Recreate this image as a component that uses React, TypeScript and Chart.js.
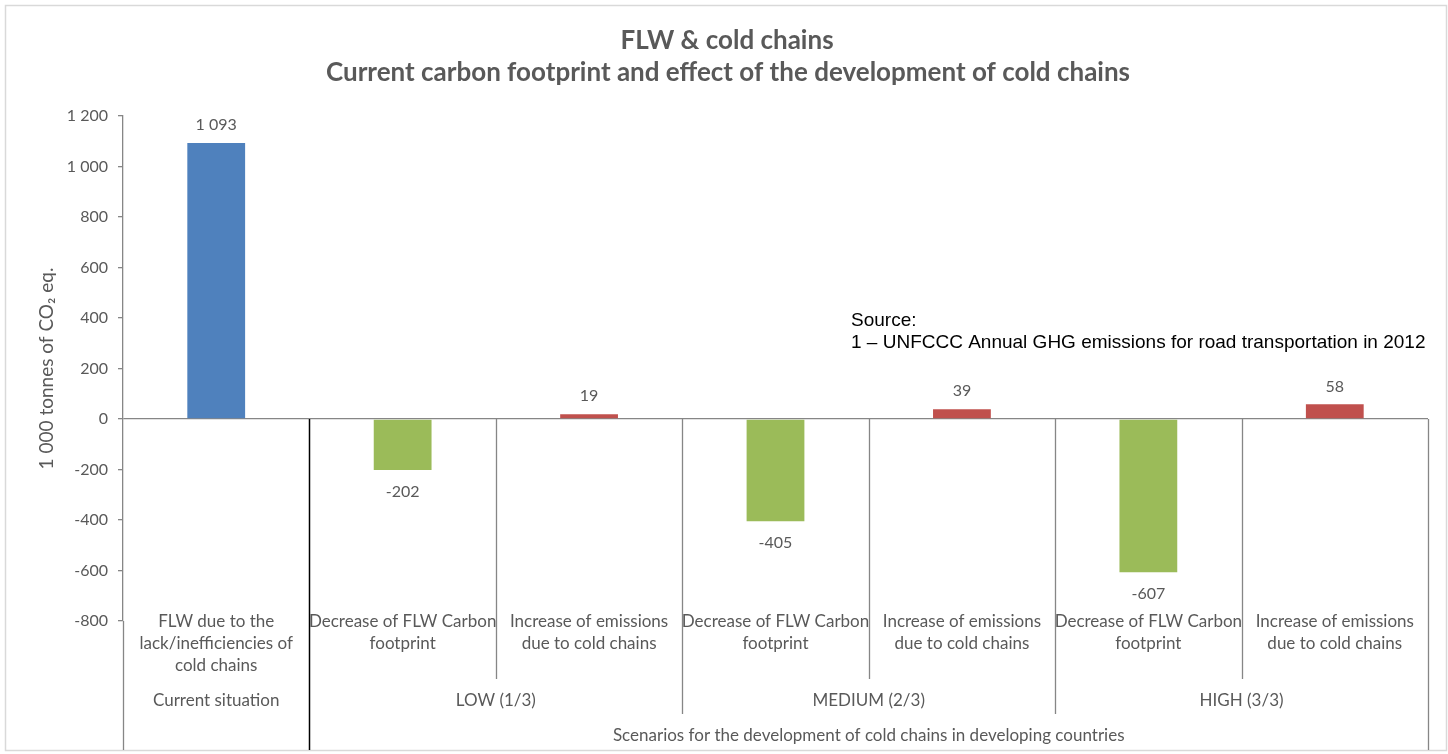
import React, { useEffect, useRef } from 'react';
import { Chart, registerables } from 'chart.js';

Chart.register(...registerables);

// ---- data ----
const categories: string[] = [
  'FLW due to the lack/inefficiencies of cold chains',
  'Decrease of FLW Carbon footprint',
  'Increase of emissions due to cold chains',
  'Decrease of FLW Carbon footprint',
  'Increase of emissions due to cold chains',
  'Decrease of FLW Carbon footprint',
  'Increase of emissions due to cold chains',
];
const categoryLines: string[][] = [
  ['FLW due to the', 'lack/inefficiencies of', 'cold chains'],
  ['Decrease of FLW Carbon', 'footprint'],
  ['Increase of emissions', 'due to cold chains'],
  ['Decrease of FLW Carbon', 'footprint'],
  ['Increase of emissions', 'due to cold chains'],
  ['Decrease of FLW Carbon', 'footprint'],
  ['Increase of emissions', 'due to cold chains'],
];
const values: number[] = [1093, -202, 19, -405, 39, -607, 58];
const barColors: string[] = ['#4F81BD', '#9BBB59', '#C0504D', '#9BBB59', '#C0504D', '#9BBB59', '#C0504D'];
const groupLabels: string[] = ['Current situation', 'LOW (1/3)', 'MEDIUM (2/3)', 'HIGH (3/3)'];
const groupFirst: number[] = [0, 1, 3, 5];
const groupLast: number[] = [0, 2, 4, 6];
const scenarioLabel = 'Scenarios for the development of cold chains in developing countries';
const titleLines: string[] = ['FLW & cold chains', 'Current carbon footprint and effect of the development of cold chains'];
const yAxisTitle = '1 000 tonnes of CO\u2082 eq.';
const yMin = -800;
const yMax = 1200;
const yStep = 200;
const sourceLines: string[] = ['Source:', '1 \u2013 UNFCCC Annual GHG emissions for road transportation in 2012'];

const FONT = 'Lato, "Open Sans", sans-serif';
const GRAY_TEXT = '#595959';
const AXIS = '#868686';

const fmt = (v: number) => {
  const s = String(Math.abs(v)).replace(/\B(?=(\d{3})+(?!\d))/g, ' ');
  return (v < 0 ? '-' : '') + s;
};

const overlayPlugin = {
  id: 'overlay',
  afterDraw(chart: any) {
    const ctx = chart.ctx as CanvasRenderingContext2D;
    const xs = chart.scales.x;
    const ys = chart.scales.y;
    const area = chart.chartArea;
    const zeroY = ys.getPixelForValue(0);
    const bottomY = 750;
    ctx.save();

    // outer border
    ctx.strokeStyle = '#D9D9D9';
    ctx.lineWidth = 1.5;
    ctx.strokeRect(5.5, 5.5, 1441, 745);

    // title
    ctx.fillStyle = GRAY_TEXT;
    ctx.textAlign = 'center';
    ctx.textBaseline = 'middle';
    ctx.font = `bold 26px ${FONT}`;
    ctx.fillText(titleLines[0], 727, 41);
    ctx.fillText(titleLines[1], 728, 73);

    // y axis title
    ctx.save();
    ctx.translate(47, (area.top + area.bottom) / 2);
    ctx.rotate(-Math.PI / 2);
    ctx.font = `19px ${FONT}`;
    ctx.fillText(yAxisTitle, 0, 0);
    ctx.restore();

    // source annotation
    ctx.fillStyle = '#000000';
    ctx.textAlign = 'left';
    ctx.font = '19px "Liberation Sans", Arial, sans-serif';
    ctx.fillText(sourceLines[0], 851, 321);
    ctx.fillText(sourceLines[1], 851, 343);

    // data labels
    ctx.fillStyle = GRAY_TEXT;
    ctx.textAlign = 'center';
    ctx.font = `16px ${FONT}`;
    const meta = chart.getDatasetMeta(0);
    meta.data.forEach((bar: any, i: number) => {
      const v = values[i];
      const y = v >= 0 ? bar.y - 18 : bar.y + 22;
      ctx.fillText(fmt(v), bar.x, y);
    });

    // category labels
    ctx.font = `17px ${FONT}`;
    categoryLines.forEach((lines, i) => {
      const cx = xs.getPixelForValue(i);
      lines.forEach((ln, j) => ctx.fillText(ln, cx, area.bottom + 1 + j * 22));
    });

    // group labels
    groupLabels.forEach((g, k) => {
      const cx = (xs.getPixelForValue(groupFirst[k]) + xs.getPixelForValue(groupLast[k])) / 2;
      ctx.fillText(g, cx, 701);
    });
    const scx = (xs.getPixelForValue(1) + xs.getPixelForValue(categories.length - 1)) / 2;
    ctx.fillText(scenarioLabel, scx, 736);

    // dividers
    const half = (xs.getPixelForValue(1) - xs.getPixelForValue(0)) / 2;
    const line = (x: number, y1: number, y2: number, color: string, w: number) => {
      ctx.beginPath();
      ctx.strokeStyle = color;
      ctx.lineWidth = w;
      ctx.moveTo(Math.round(x) + 0.5, y1);
      ctx.lineTo(Math.round(x) + 0.5, y2);
      ctx.stroke();
    };
    for (let i = 0; i < categories.length; i++) {
      const bx = xs.getPixelForValue(i) + half;
      let y2 = 679;
      let color = AXIS;
      let w = 1.3;
      if (i === 0) { y2 = bottomY; color = '#000000'; w = 1.5; }
      else if (i === categories.length - 1) { y2 = bottomY; }
      else if (groupLast.includes(i)) { y2 = 714; }
      line(bx, zeroY, y2, color, w);
    }
    // y axis extension below plot
    line(area.left - 0.5, area.bottom, bottomY, AXIS, 1.3);

    ctx.restore();
  },
};

export default function App() {
  const ref = useRef<HTMLCanvasElement | null>(null);
  useEffect(() => {
    if (!ref.current) return;
    const chart = new Chart(ref.current, {
      type: 'bar',
      data: {
        labels: categories,
        datasets: [
          {
            data: values,
            backgroundColor: barColors,
            borderWidth: 0,
            categoryPercentage: 1,
            barPercentage: 0.31,
          },
        ],
      },
      options: {
        animation: false,
        responsive: false,
        maintainAspectRatio: false,
        layout: { padding: { top: 116, bottom: 133, left: 0, right: 20 } },
        plugins: { legend: { display: false }, tooltip: { enabled: false }, title: { display: false } },
        scales: {
          x: { display: false },
          y: {
            min: yMin,
            max: yMax,
            afterFit: (s: any) => { s.width = 123; },
            ticks: {
              stepSize: yStep,
              color: GRAY_TEXT,
              padding: 10,
              font: { family: FONT, size: 16 },
              callback: (v: any) => fmt(Number(v)),
            },
            grid: {
              drawOnChartArea: true,
              color: (c: any) => (c.tick && c.tick.value === 0 ? AXIS : 'rgba(0,0,0,0)'),
              tickColor: AXIS,
              tickLength: 5,
              lineWidth: 1.3,
            },
            border: { display: true, color: AXIS, width: 1.3 },
          },
        },
      },
      plugins: [overlayPlugin],
    });
    return () => chart.destroy();
  }, []);
  return (
    <div style={{ position: 'absolute', left: 0, top: 0, width: 1448, height: 754, background: '#fff' }}>
      <canvas ref={ref} width={1448} height={754} style={{ width: 1448, height: 754 }} />
    </div>
  );
}
